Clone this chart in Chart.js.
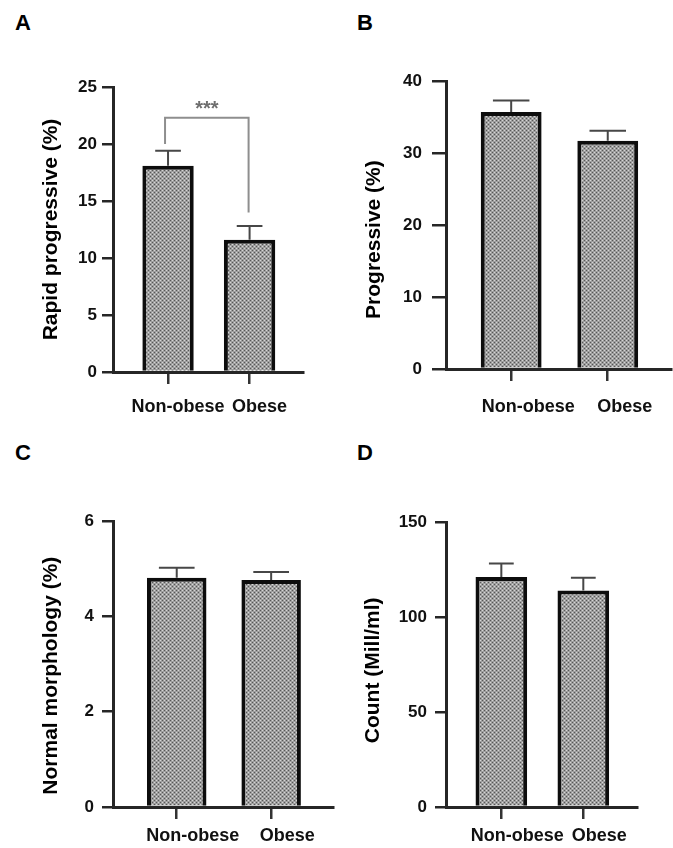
<!DOCTYPE html>
<html>
<head>
<meta charset="utf-8">
<script src="https://cdn.jsdelivr.net/npm/chart.js@4.4.1/dist/chart.umd.min.js"></script>
<style>
  html, body { margin: 0; padding: 0; background: #fff; }
  body {
    position: relative;
    width: 673px;
    height: 848px;
    overflow: hidden;
    font-family: "Liberation Sans", Arial, sans-serif;
  }
  canvas { position: absolute; }
  .panel-letter {
    position: absolute;
    font-weight: bold;
    font-size: 22px;
    line-height: 22px;
    color: #000;
  }
</style>
</head>
<body>
<div class="panel-letter" style="left:15px;top:12px">A</div>
<div class="panel-letter" style="left:357px;top:12px">B</div>
<div class="panel-letter" style="left:15px;top:442px">C</div>
<div class="panel-letter" style="left:357px;top:442px">D</div>

<canvas id="chartA" width="330" height="420" style="left:0;top:0"></canvas>
<canvas id="chartB" width="343" height="420" style="left:330px;top:0"></canvas>
<canvas id="chartC" width="336" height="428" style="left:0;top:420px"></canvas>
<canvas id="chartD" width="337" height="428" style="left:336px;top:420px"></canvas>

<script>
const GROUPS = ["Non-obese", "Obese"];

const RAPID_MEAN = [18.1, 11.6];
const RAPID_SEM = [1.3, 1.2];

const PROGRESSIVE_MEAN = [35.7, 31.7];
const PROGRESSIVE_SEM = [1.6, 1.4];

const MORPHOLOGY_MEAN = [4.81, 4.76];
const MORPHOLOGY_SEM = [0.21, 0.17];

const COUNT_MEAN = [121, 114];
const COUNT_SEM = [7.2, 6.7];

const FONT = '"Liberation Sans", Arial, sans-serif';
const AXIS_COLOR = "#262626";
const X_MIN = 0.325;
const X_MAX = 2.655;

function makeDotPattern(ctx) {
  const tile = document.createElement("canvas");
  tile.width = 4;
  tile.height = 4;
  const t = tile.getContext("2d");
  t.fillStyle = "#9e9e9e";
  t.fillRect(0, 0, 4, 4);
  t.fillStyle = "#d6d6d6";
  t.fillRect(0, 0, 1, 1);
  t.fillRect(2, 2, 1, 1);
  t.fillStyle = "#575757";
  t.fillRect(2, 0, 1, 1);
  t.fillRect(0, 2, 1, 1);
  return ctx.createPattern(tile, "repeat");
}

// whiskers (upper only) plus the optional significance bracket
function makeOverlay(panel) {
  return {
    id: "overlay",
    afterDatasetsDraw(chart) {
      const { ctx, scales: { x, y } } = chart;
      const meta = chart.getDatasetMeta(0);
      ctx.save();
      ctx.strokeStyle = "#474747";
      ctx.lineWidth = 2;
      meta.data.forEach((bar, i) => {
        const top = y.getPixelForValue(panel.means[i] + panel.errors[i]);
        const half = (bar.width * panel.capRatio) / 2;
        ctx.beginPath();
        ctx.moveTo(bar.x, bar.y);
        ctx.lineTo(bar.x, top);
        ctx.moveTo(bar.x - half, top);
        ctx.lineTo(bar.x + half, top);
        ctx.stroke();
      });

      if (panel.bracket) {
        const b = panel.bracket;
        const x1 = x.getPixelForValue(1) - 3;
        const x2 = x.getPixelForValue(2) - 1;
        const yTop = y.getPixelForValue(b.top);
        ctx.strokeStyle = "#8e8e8e";
        ctx.lineWidth = 2;
        ctx.beginPath();
        ctx.moveTo(x1, y.getPixelForValue(b.leftEnd));
        ctx.lineTo(x1, yTop);
        ctx.lineTo(x2, yTop);
        ctx.lineTo(x2, y.getPixelForValue(b.rightEnd));
        ctx.stroke();
        ctx.fillStyle = "#6e6e6e";
        ctx.font = `bold 20px ${FONT}`;
        ctx.textAlign = "center";
        ctx.textBaseline = "alphabetic";
        ctx.fillText(b.label, (x1 + x2) / 2, yTop - 3);
      }
      ctx.restore();
    },
  };
}

function renderPanel(panel) {
  const canvas = document.getElementById(panel.canvasId);
  const ctx = canvas.getContext("2d");
  return new Chart(ctx, {
    type: "bar",
    data: {
      datasets: [
        {
          data: panel.means.map((v, i) => ({ x: i + 1, y: v })),
          backgroundColor: makeDotPattern(ctx),
          borderColor: "#0d0d0d",
          borderWidth: 4,
          borderSkipped: "start",
          categoryPercentage: 1,
          barPercentage: 0.63,
        },
      ],
    },
    options: {
      responsive: false,
      animation: false,
      layout: {
        padding: { top: panel.area.top, right: panel.area.right, left: 0, bottom: 0 },
      },
      plugins: { legend: { display: false }, tooltip: { enabled: false } },
      scales: {
        x: {
          type: "linear",
          min: X_MIN,
          max: X_MAX,
          offset: false,
          afterFit: (scale) => {
            scale.height = panel.area.xHeight;
          },
          afterBuildTicks: (scale) => {
            scale.ticks = GROUPS.map((_, i) => ({ value: i + 1 }));
          },
          border: { display: true, color: AXIS_COLOR, width: 3 },
          grid: {
            offset: false,
            drawOnChartArea: false,
            drawTicks: true,
            tickLength: 12,
            lineWidth: 2.5,
            color: "#333",
          },
          ticks: {
            autoSkip: false,
            maxRotation: 0,
            padding: panel.xLabelPad,
            labelOffset: panel.labelOffset,
            color: "#111",
            font: { family: FONT, size: 18, weight: "bold" },
            callback: (value) => GROUPS[Math.round(value) - 1],
          },
        },
        y: {
          min: 0,
          max: panel.yMax,
          afterFit: (scale) => {
            scale.width = panel.area.left;
          },
          border: { display: true, color: AXIS_COLOR, width: 3 },
          grid: {
            drawOnChartArea: false,
            drawTicks: true,
            tickLength: panel.yTickLength,
            lineWidth: 2.5,
            color: AXIS_COLOR,
          },
          ticks: {
            stepSize: panel.yStep,
            padding: panel.yLabelPad,
            color: "#111",
            font: { family: FONT, size: 17, weight: "bold" },
          },
          title: {
            display: true,
            text: panel.title + " ".repeat(panel.titleShift),
            color: "#000",
            padding: { top: panel.titlePad, bottom: 0 },
            font: { family: FONT, size: 21, weight: "bold", lineHeight: 1.2 },
          },
        },
      },
    },
    plugins: [makeOverlay(panel)],
  });
}

renderPanel({
  canvasId: "chartA",
  title: "Rapid progressive (%)",
  titleShift: 0,
  titlePad: 39,
  means: RAPID_MEAN,
  errors: RAPID_SEM,
  yMax: 25,
  yStep: 5,
  yTickLength: 11,
  yLabelPad: 5,
  xLabelPad: 12,
  labelOffset: 10,
  capRatio: 0.5,
  area: { left: 113, top: 87, right: 27, xHeight: 48 },
  bracket: { top: 22.3, leftEnd: 20.0, rightEnd: 14.0, label: "***" },
});

renderPanel({
  canvasId: "chartB",
  title: "Progressive (%)",
  titleShift: 5,
  titlePad: 32,
  means: PROGRESSIVE_MEAN,
  errors: PROGRESSIVE_SEM,
  yMax: 40,
  yStep: 10,
  yTickLength: 14,
  yLabelPad: 10,
  xLabelPad: 15,
  labelOffset: 17,
  capRatio: 0.6,
  area: { left: 116, top: 81, right: 2, xHeight: 51 },
});

renderPanel({
  canvasId: "chartC",
  title: "Normal morphology (%)",
  titleShift: 4,
  titlePad: 39,
  means: MORPHOLOGY_MEAN,
  errors: MORPHOLOGY_SEM,
  yMax: 6,
  yStep: 2,
  yTickLength: 11,
  yLabelPad: 8,
  xLabelPad: 6,
  labelOffset: 16,
  capRatio: 0.6,
  area: { left: 113, top: 101, right: 3, xHeight: 41 },
});

renderPanel({
  canvasId: "chartD",
  title: "Count (Mill/ml)",
  titleShift: 2,
  titlePad: 25,
  means: COUNT_MEAN,
  errors: COUNT_SEM,
  yMax: 150,
  yStep: 50,
  yTickLength: 11,
  yLabelPad: 8,
  xLabelPad: 6,
  labelOffset: 16,
  capRatio: 0.48,
  area: { left: 110, top: 102, right: 36, xHeight: 41 },
});
</script>
</body>
</html>
